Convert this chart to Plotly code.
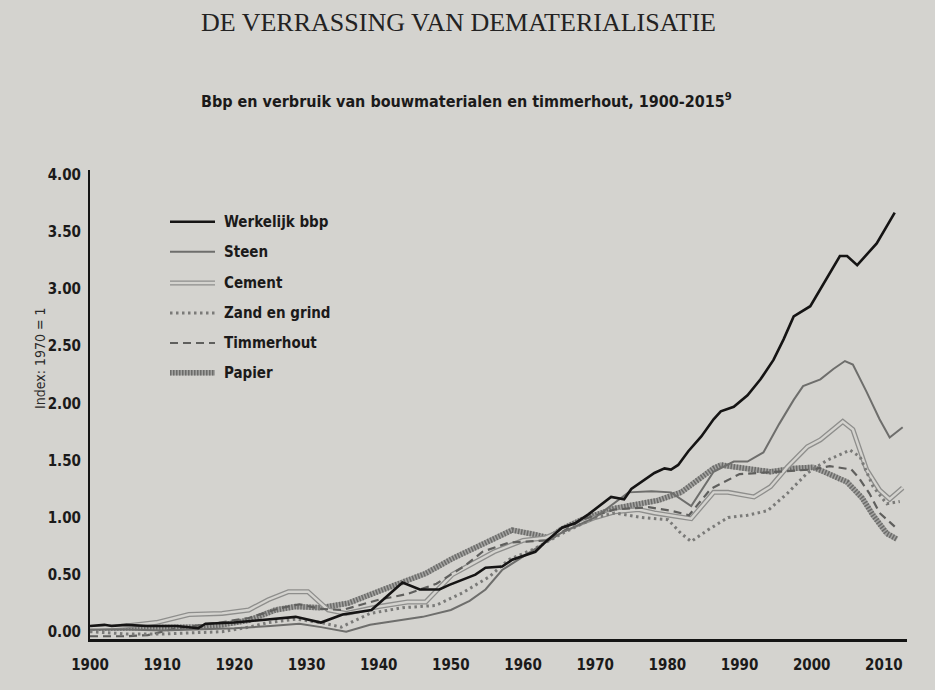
import plotly.graph_objects as go

# ---------------- data ----------------
bbp_years = [1900, 1902, 1903, 1905, 1908, 1912, 1915, 1916, 1920, 1925, 1928.5, 1932, 1935, 1939,
             1943.3, 1945.7, 1948.4, 1949.8, 1953.4, 1954.8, 1957.1, 1958.5, 1961.7, 1963, 1965.4,
             1967.2, 1969.1, 1972.2, 1974, 1975, 1976.4, 1978.2, 1979.6, 1980.5, 1981.5, 1982.9,
             1984.7, 1986.4, 1987.4, 1989.2, 1991.1, 1992.9, 1994.7, 1996.1, 1997.5, 1999.8,
             2003.9, 2004.9, 2006.3, 2009, 2011.5]
bbp_vals = [0.05, 0.06, 0.05, 0.06, 0.05, 0.05, 0.03, 0.07, 0.08, 0.11, 0.13, 0.08, 0.15, 0.19,
            0.43, 0.37, 0.37, 0.41, 0.50, 0.56, 0.57, 0.63, 0.70, 0.78, 0.91,
            0.95, 1.03, 1.18, 1.16, 1.25, 1.31, 1.39, 1.43, 1.42, 1.46, 1.58,
            1.71, 1.86, 1.93, 1.97, 2.07, 2.21, 2.38, 2.56, 2.76, 2.85,
            3.29, 3.29, 3.21, 3.40, 3.67]

steen_years = [1900, 1905, 1910, 1915, 1920, 1925, 1929, 1932, 1935.5, 1938.8, 1946.1, 1950, 1952.6,
               1954.8, 1957.1, 1960.8, 1965.4, 1970, 1974.6, 1977.8, 1980.5, 1983.3, 1986.4, 1989.2,
               1991.1, 1993.3, 1995.5, 1997.5, 1998.8, 2001.2, 2003, 2004.6, 2005.7, 2007.6, 2009.4,
               2010.8, 2012.6]
steen_vals = [0.02, 0.02, 0.01, 0.02, 0.03, 0.05, 0.07, 0.04, 0.00, 0.06, 0.13, 0.19, 0.27,
              0.37, 0.54, 0.69, 0.87, 1.00, 1.22, 1.23, 1.22, 1.10, 1.40, 1.49,
              1.49, 1.57, 1.82, 2.03, 2.15, 2.21, 2.30, 2.37, 2.34, 2.10, 1.86,
              1.70, 1.79]

cement_years = [1900, 1905, 1909.2, 1913.7, 1918.3, 1922, 1924.7, 1927.5, 1930.2, 1933, 1935.5, 1940,
                1944, 1946.5, 1950.2, 1953, 1956, 1960, 1963, 1966, 1970, 1972.7, 1976, 1978.2,
                1981.9, 1983.3, 1986.4, 1988.4, 1992, 1994.3, 1996.6, 1999.4, 2001.2, 2004.3,
                2005.7, 2007.6, 2009.4, 2010.8, 2012.6]
cement_vals = [0.03, 0.05, 0.08, 0.15, 0.16, 0.19, 0.28, 0.35, 0.35, 0.19, 0.16, 0.22,
               0.26, 0.26, 0.50, 0.60, 0.70, 0.80, 0.82, 0.90, 1.00, 1.05, 1.07, 1.04,
               1.00, 0.99, 1.22, 1.22, 1.18, 1.27, 1.44, 1.62, 1.68, 1.84,
               1.77, 1.42, 1.24, 1.16, 1.26]

zand_years = [1900, 1905, 1910, 1915, 1918.3, 1922, 1924.7, 1928.5, 1932, 1934.8, 1938.8, 1943.3,
              1947.9, 1951.6, 1955.3, 1958, 1961.7, 1965.4, 1970, 1972.7, 1976.4, 1980.1, 1981.9,
              1983.3, 1985.6, 1988.4, 1991.1, 1993.9, 1996.6, 1999.4, 2002.1, 2005.3, 2006.7,
              2008.5, 2010.4, 2012.2]
zand_vals = [0.00, -0.02, -0.02, -0.01, 0.00, 0.04, 0.08, 0.11, 0.08, 0.04, 0.16, 0.21,
             0.23, 0.34, 0.48, 0.63, 0.73, 0.86, 1.00, 1.04, 1.00, 0.98, 0.86,
             0.79, 0.89, 1.00, 1.02, 1.06, 1.21, 1.39, 1.50, 1.59, 1.53,
             1.27, 1.12, 1.14]

hout_years = [1900, 1905, 1908, 1912, 1918, 1922, 1926, 1929, 1932, 1935, 1940, 1944, 1948, 1952,
              1954.4, 1958, 1963.6, 1968.1, 1972.7, 1977.4, 1980.5, 1983, 1986, 1990, 1995, 2000,
              2002.5, 2005.5, 2006.5, 2008, 2009.4, 2010.4, 2011.5]
hout_vals = [-0.04, -0.04, -0.03, 0.03, 0.08, 0.12, 0.20, 0.24, 0.20, 0.19, 0.28, 0.33, 0.42, 0.58,
             0.70, 0.78, 0.80, 0.98, 1.07, 1.09, 1.06, 1.02, 1.25, 1.38, 1.40, 1.42,
             1.45, 1.42, 1.35, 1.21, 1.04, 0.98, 0.92]

papier_years = [1900, 1905, 1910, 1915, 1918.3, 1922, 1925.7, 1928.5, 1932, 1935.8, 1941.9, 1946.5,
                1950.2, 1954.4, 1958.5, 1961.7, 1963.6, 1965.4, 1968.1, 1972.7, 1976.4, 1978.7,
                1981.9, 1984.7, 1986.4, 1987.4, 1991.1, 1994.3, 1997.5, 2000.2, 2002.1, 2004.9,
                2007, 2008.5, 2010.4, 2011.8]
papier_vals = [0.03, 0.03, 0.03, 0.04, 0.06, 0.10, 0.19, 0.22, 0.21, 0.25, 0.40, 0.51,
               0.64, 0.77, 0.89, 0.85, 0.82, 0.90, 0.98, 1.08, 1.12, 1.15,
               1.22, 1.36, 1.43, 1.46, 1.43, 1.40, 1.43, 1.44, 1.39, 1.31,
               1.17, 1.02, 0.86, 0.81]

x_ticks = [1900, 1910, 1920, 1930, 1940, 1950, 1960, 1970, 1980, 1990, 2000, 2010]
y_ticks = [0, 0.5, 1.0, 1.5, 2.0, 2.5, 3.0, 3.5, 4.0]

legend_labels = ["Werkelijk bbp", "Steen", "Cement", "Zand en grind", "Timmerhout", "Papier"]

# ---------------- styling ----------------
PAPER = "#d4d3cf"
NARROW = "DejaVu Sans Condensed, Liberation Sans Narrow, sans-serif"
W, H = 935, 690
L, R, T, B = 90, 28, 170, 51


def xp(px):
    return (px - L) / (W - L - R)


def yp(py):
    return (H - B - py) / (H - T - B)


fig = go.Figure()


def add(xs, ys, color, width, dash="solid"):
    fig.add_trace(go.Scatter(x=xs, y=ys, mode="lines", showlegend=False, hoverinfo="skip",
                             line=dict(color=color, width=width, dash=dash)))


# Papier: hatched thick line
add(papier_years, papier_vals, "#a3a3a1", 5.5)
add(papier_years, papier_vals, "#6c6c6a", 5.5, "1.5px,1.5px")
# Cement: double (outlined) line
add(cement_years, cement_vals, "#8e8e8c", 5)
add(cement_years, cement_vals, PAPER, 2.4)
# Timmerhout: dashed
add(hout_years, hout_vals, "#5f5f5d", 2.2, "8px,5px")
# Zand en grind: dotted
add(zand_years, zand_vals, "#7a7a78", 3, "2.5px,3.5px")
# Steen: gray solid
add(steen_years, steen_vals, "#6e6e6c", 2)
# Werkelijk bbp: black
add(bbp_years, bbp_vals, "#151414", 2.6)

# ---------------- custom legend ----------------
rows_py = [221.7, 251.7, 283, 313, 343, 372.7]
shapes = []
annotations = []
x0, x1, xt = xp(170), xp(215), xp(222)
styles = [
    [("#151414", 2.6, "solid")],
    [("#6e6e6c", 2, "solid")],
    [("#8e8e8c", 5, "solid"), (PAPER, 2.4, "solid")],
    [("#7a7a78", 3, "2.5px,3.5px")],
    [("#5f5f5d", 2.2, "8px,5px")],
    [("#a3a3a1", 5.5, "solid"), ("#6c6c6a", 5.5, "1.5px,1.5px")],
]
for py, lab, st in zip(rows_py, legend_labels, styles):
    for c, w, d in st:
        shapes.append(dict(type="line", xref="paper", yref="paper", x0=x0, x1=x1,
                           y0=yp(py), y1=yp(py), line=dict(color=c, width=w, dash=d)))
    annotations.append(dict(xref="paper", yref="paper", x=xt, y=yp(py), xanchor="left",
                            yanchor="middle", showarrow=False, text=lab,
                            font=dict(family=NARROW, size=15, color="#1b1a1a", weight="bold")))

# header, title, y-axis title
annotations.append(dict(xref="paper", yref="paper", x=xp(458), y=yp(22), xanchor="center",
                        yanchor="middle", showarrow=False,
                        text="DE VERRASSING VAN DEMATERIALISATIE",
                        font=dict(family="Liberation Serif, DejaVu Serif, serif", size=26,
                                  color="#232222")))
annotations.append(dict(xref="paper", yref="paper", x=xp(466), y=yp(101), xanchor="center",
                        yanchor="middle", showarrow=False,
                        text="Bbp en verbruik van bouwmaterialen en timmerhout, 1900-2015<sup>9</sup>",
                        font=dict(family=NARROW, size=16, color="#1b1a1a", weight="bold")))
annotations.append(dict(xref="paper", yref="paper", x=xp(40), y=yp(358), xanchor="center",
                        yanchor="middle", showarrow=False, textangle=-90,
                        text="Index: 1970 = 1",
                        font=dict(family=NARROW, size=14, color="#2a2929")))

fig.update_layout(
    width=W, height=H,
    margin=dict(l=L, r=R, t=T, b=B, pad=0, autoexpand=False),
    paper_bgcolor=PAPER, plot_bgcolor=PAPER,
    showlegend=False,
    shapes=shapes, annotations=annotations,
    xaxis=dict(range=[1900, 2013.2], tickvals=x_ticks, showgrid=False, zeroline=False,
               showline=True, linecolor="#141414", linewidth=2.5, ticks="",
               automargin=False, ticklabelstandoff=10,
               tickfont=dict(family=NARROW, size=15, color="#1b1a1a", weight="bold")),
    yaxis=dict(range=[-0.064, 4.043], tickvals=y_ticks, tickformat=".2f", showgrid=False,
               zeroline=False, showline=True, linecolor="#141414", linewidth=2, ticks="",
               automargin=False, ticklabelstandoff=4,
               tickfont=dict(family=NARROW, size=15, color="#1b1a1a", weight="bold")),
)

fig.write_html(
    "out.html",
    config={"displayModeBar": False},
    post_script="document.body.style.margin='0px';document.body.style.background='" + PAPER + "';",
)
